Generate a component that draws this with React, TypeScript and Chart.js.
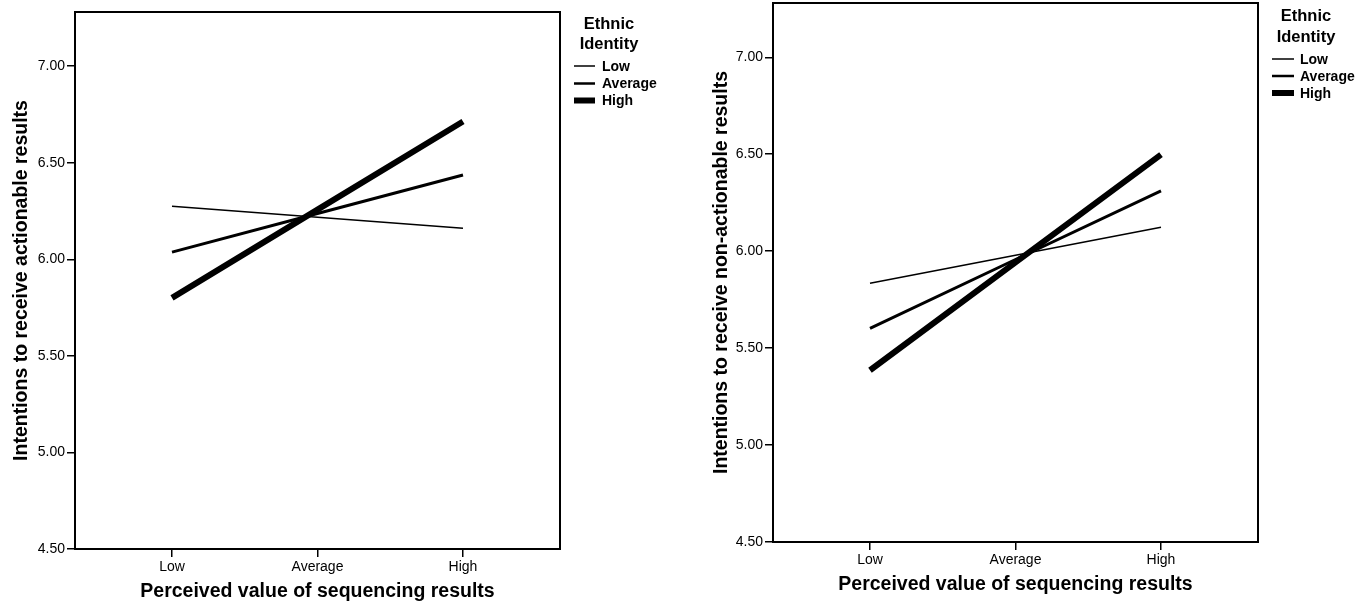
import React, { useEffect, useRef } from 'react';
import { Chart, registerables } from 'chart.js';

Chart.register(...registerables);

// ---------- data ----------
const xCategories = ['Low', 'Average', 'High'];
const seriesNames = ['Low', 'Average', 'High'];
const legendTitle = ['Ethnic', 'Identity'];
const yTickValues = [4.5, 5.0, 5.5, 6.0, 6.5, 7.0];
const yMin = 4.5;
const yMax = 7.28;

// Left panel: intentions to receive actionable results
const actionableLow = [6.275, 6.218, 6.16];
const actionableAverage = [6.037, 6.237, 6.436];
const actionableHigh = [5.8, 6.257, 6.713];

// Right panel: intentions to receive non-actionable results
const nonActionableLow = [5.835, 5.979, 6.123];
const nonActionableAverage = [5.602, 5.957, 6.311];
const nonActionableHigh = [5.386, 5.942, 6.498];

const xTitle = 'Perceived value of sequencing results';
const leftYTitle = 'Intentions to receive actionable results';
const rightYTitle = 'Intentions to receive non-actionable results';

// ---------- styles ----------
const FONT = "'Liberation Sans', Arial, Helvetica, sans-serif";
const lineWidths = [1.5, 3, 6];
const legendLineWidths = [1.5, 2.5, 6];

type PanelProps = {
  width: number;
  height: number;
  left: number;
  chartLeft: number;
  chartRight: number;
  chartTop: number;
  chartBottom: number;
  yTitle: string;
  yTitlePad: number;
  xTitlePad: number;
  series: number[][];
  legend: { titleX: number; titleY: number[]; lineX1: number; lineX2: number; textX: number; itemY: number[] };
};

function Panel(p: PanelProps) {
  const ref = useRef<HTMLCanvasElement | null>(null);

  useEffect(() => {
    if (!ref.current) return;

    const boxPlugin = {
      id: 'plotBox',
      afterDatasetsDraw(chart: any) {
        const { ctx, chartArea } = chart;
        ctx.save();
        ctx.strokeStyle = '#000';
        ctx.lineWidth = 2;
        ctx.strokeRect(chartArea.left, chartArea.top, chartArea.right - chartArea.left, chartArea.bottom - chartArea.top);
        ctx.restore();
      },
    };

    const legendPlugin = {
      id: 'customLegend',
      afterDraw(chart: any) {
        const { ctx } = chart;
        const L = p.legend;
        ctx.save();
        ctx.fillStyle = '#000';
        ctx.textBaseline = 'middle';
        ctx.textAlign = 'center';
        ctx.font = `bold 16.5px ${FONT}`;
        legendTitle.forEach((t, i) => ctx.fillText(t, L.titleX, L.titleY[i]));
        ctx.textAlign = 'left';
        ctx.font = `bold 14px ${FONT}`;
        seriesNames.forEach((name, i) => {
          ctx.beginPath();
          ctx.strokeStyle = '#000';
          ctx.lineWidth = legendLineWidths[i];
          ctx.lineCap = 'butt';
          ctx.moveTo(L.lineX1, L.itemY[i]);
          ctx.lineTo(L.lineX2, L.itemY[i]);
          ctx.stroke();
          ctx.fillText(name, L.textX, L.itemY[i] + 1);
        });
        ctx.restore();
      },
    };

    const chart = new Chart(ref.current, {
      type: 'line',
      data: {
        datasets: seriesNames.map((name, i) => ({
          label: name,
          data: p.series[i].map((v, j) => ({ x: j, y: v })),
          borderColor: '#000',
          backgroundColor: '#000',
          borderWidth: lineWidths[i],
          borderCapStyle: 'butt' as const,
          pointRadius: 0,
          pointHoverRadius: 0,
          fill: false,
          tension: 0,
        })),
      },
      options: {
        responsive: false,
        devicePixelRatio: 1,
        animation: false,
        events: [],
        layout: {
          padding: { top: p.chartTop, right: p.width - p.chartRight, left: 0, bottom: 0 },
        },
        plugins: {
          legend: { display: false },
          tooltip: { enabled: false },
        },
        scales: {
          x: {
            type: 'linear',
            min: -2 / 3,
            max: 2 + 2 / 3,
            afterBuildTicks: (axis: any) => {
              axis.ticks = xCategories.map((_, i) => ({ value: i }));
            },
            afterFit: (scale: any) => {
              scale.height = p.height - p.chartBottom;
              scale.paddingLeft = 0;
              scale.paddingRight = 0;
            },
            border: { display: false },
            grid: {
              display: true,
              drawOnChartArea: false,
              drawTicks: true,
              tickLength: 8,
              color: '#000',
              lineWidth: 1.5,
            },
            ticks: {
              padding: 2,
              color: '#000',
              font: { family: FONT, size: 14 },
              maxRotation: 0,
              callback: (v: any) => xCategories[Math.round(Number(v))] ?? '',
            },
            title: {
              display: true,
              text: xTitle,
              color: '#000',
              font: { family: FONT, size: 19.5, weight: 'bold' },
              padding: { top: 0, bottom: p.xTitlePad },
            },
          },
          y: {
            type: 'linear',
            min: yMin,
            max: yMax,
            afterBuildTicks: (axis: any) => {
              axis.ticks = yTickValues.map((v) => ({ value: v }));
            },
            afterFit: (scale: any) => {
              scale.width = p.chartLeft;
              scale.paddingTop = 0;
              scale.paddingBottom = 0;
            },
            border: { display: false },
            grid: {
              display: true,
              drawOnChartArea: false,
              drawTicks: true,
              tickLength: 8,
              color: '#000',
              lineWidth: 1.5,
            },
            ticks: {
              padding: 2,
              color: '#000',
              font: { family: FONT, size: 14 },
              callback: (v: any) => Number(v).toFixed(2),
            },
            title: {
              display: true,
              text: p.yTitle,
              color: '#000',
              font: { family: FONT, size: 19.5, weight: 'bold' },
              padding: { top: p.yTitlePad, bottom: 0 },
            },
          },
        },
      },
      plugins: [boxPlugin, legendPlugin],
    } as any);

    return () => chart.destroy();
  }, []);

  return (
    <canvas
      ref={ref}
      width={p.width}
      height={p.height}
      style={{ position: 'absolute', left: p.left, top: 0, width: p.width, height: p.height }}
    />
  );
}

export default function App() {
  return (
    <div style={{ position: 'absolute', left: 0, top: 0, width: 1371, height: 612, background: '#fff' }}>
      <Panel
        width={690}
        height={612}
        left={0}
        chartLeft={75}
        chartRight={560}
        chartTop={12}
        chartBottom={549}
        yTitle={leftYTitle}
        yTitlePad={10}
        xTitlePad={9}
        series={[actionableLow, actionableAverage, actionableHigh]}
        legend={{ titleX: 609, titleY: [24, 44], lineX1: 574, lineX2: 595, textX: 602, itemY: [66, 83.5, 100.5] }}
      />
      <Panel
        width={681}
        height={612}
        left={690}
        chartLeft={83}
        chartRight={568}
        chartTop={3}
        chartBottom={542}
        yTitle={rightYTitle}
        yTitlePad={20}
        xTitlePad={16}
        series={[nonActionableLow, nonActionableAverage, nonActionableHigh]}
        legend={{ titleX: 616, titleY: [16.5, 37.5], lineX1: 582, lineX2: 604, textX: 610, itemY: [59, 76, 93] }}
      />
    </div>
  );
}
